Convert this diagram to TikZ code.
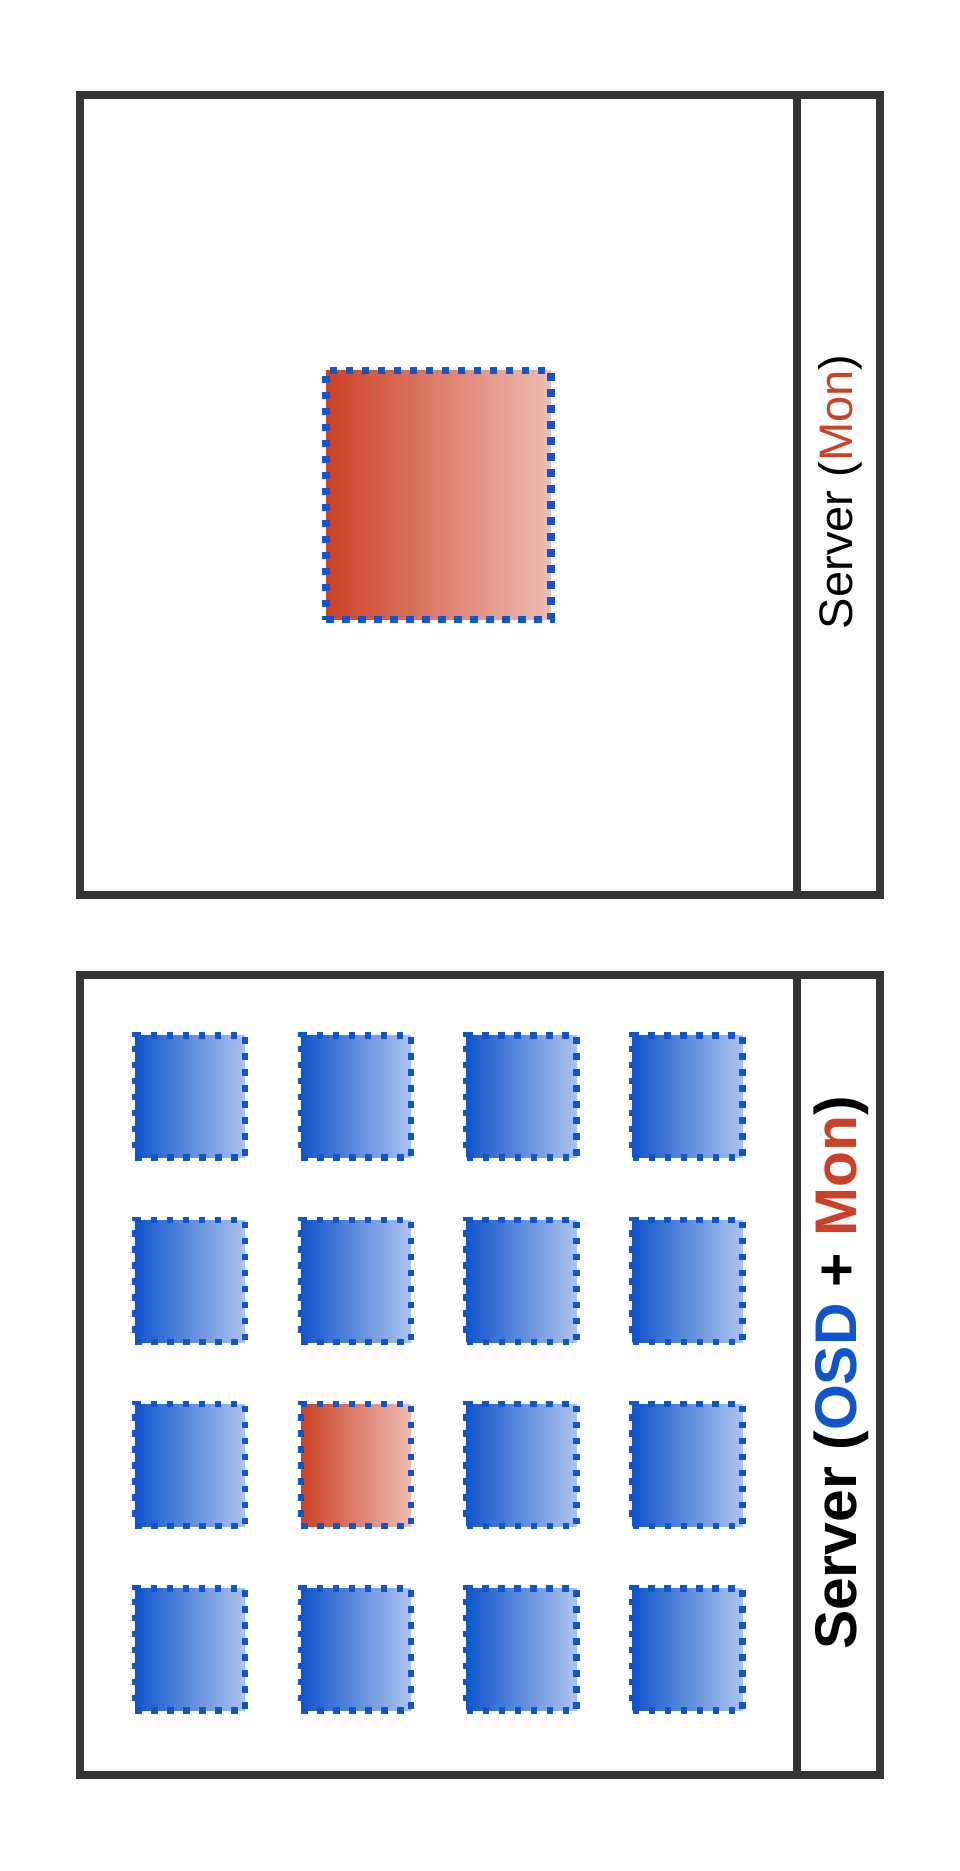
\documentclass[tikz,border=0pt]{standalone}
\usepackage{fontspec}
\setmainfont{Liberation Sans}
\definecolor{frame}{HTML}{333333}
\definecolor{osdblue}{HTML}{1155CC}
\definecolor{monred}{HTML}{CC4125}
\tikzset{
  server/.style={draw=frame, line width=8pt, minimum width=800pt, minimum height=800pt, inner sep=0pt, fill=white},
  divider/.style={draw=frame, line width=8pt},
  dotborder/.style={draw=osdblue, line width=6.5pt, dash pattern=on 6.5pt off 9.5pt, inner sep=0pt},
  osd/.style={dotborder, left color=osdblue, right color=osdblue!35, minimum width=110pt, minimum height=122pt},
  monsmall/.style={dotborder, left color=monred, right color=monred!35, minimum width=110pt, minimum height=122pt},
  monbig/.style={dotborder, line width=7.5pt, dash pattern=on 7.5pt off 8.5pt, left color=monred, right color=monred!35, minimum width=225pt, minimum height=249pt},
  lbl/.style={rotate=90, inner sep=0pt, text=black}
}
\begin{document}
\begin{tikzpicture}[x=1pt, y=-1pt]
\useasboundingbox (0,0) rectangle (960,1871);
% top server
\node[server] (srv1) at (480,495) {};
\coordinate (d1t) at (797,95);
\coordinate (d1b) at (797,895);
\draw[divider] (d1t) -- (d1b);
\node[monbig] (mon) at (438.5,495) {};
\node[lbl, font=\fontsize{47}{56}\selectfont] (l1) at (840,492) {Server (\textcolor{monred}{Mon})};
% bottom server
\node[server] (srv2) at (480,1375) {};
\coordinate (d2t) at (797,975);
\coordinate (d2b) at (797,1775);
\draw[divider] (d2t) -- (d2b);
\foreach \c/\x in {1/190,2/356,3/521.5,4/687.5}{
  \foreach \r/\y in {1/1096.5,2/1281,3/1465,4/1649.5}{
    \ifnum\c=2 \ifnum\r=3
      \node[monsmall] (s\c\r) at (\x,\y) {};
    \else
      \node[osd] (s\c\r) at (\x,\y) {};
    \fi\else
      \node[osd] (s\c\r) at (\x,\y) {};
    \fi
  }
}
\node[lbl, font=\bfseries\fontsize{58.8}{70}\selectfont] (l2) at (841,1373) {Server (\textcolor{osdblue}{OSD} + \textcolor{monred}{Mon})};
\end{tikzpicture}
\end{document}
